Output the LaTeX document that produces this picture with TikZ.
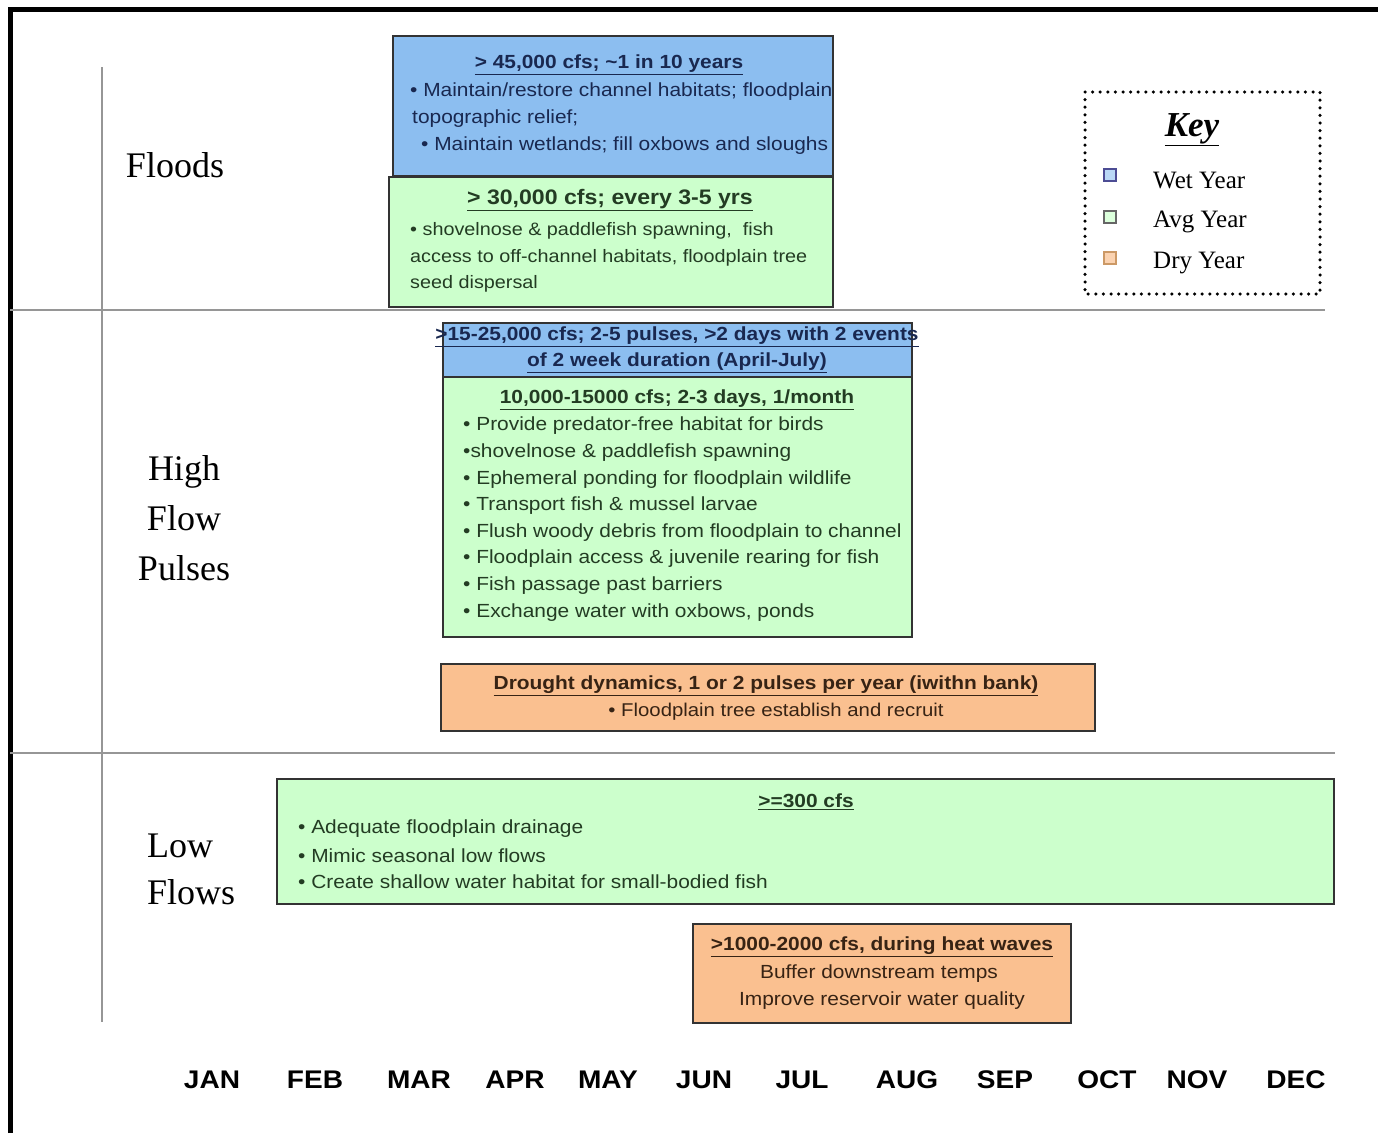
\documentclass[tikz,border=0pt]{standalone}
\usepackage{fontspec}
\setmainfont{Liberation Serif}
\setsansfont{Liberation Sans}[FakeStretch=1.1]
\usetikzlibrary{positioning}

\definecolor{wetblue}{RGB}{140,190,240}
\definecolor{avggreen}{RGB}{204,255,204}
\definecolor{dryorange}{RGB}{250,192,144}
\definecolor{wettext}{RGB}{25,40,80}
\definecolor{avgtext}{RGB}{35,60,35}
\definecolor{drytext}{RGB}{55,35,20}
\definecolor{rulegray}{RGB}{150,150,150}

\begin{document}
\begin{tikzpicture}[x=1pt,y=-1pt,
        flow box/.style={rectangle, draw=black!80, line width=2pt, inner sep=0pt},
        head/.style={inner sep=0pt, font=\sffamily\bfseries\fontsize{19}{22}\selectfont},
        body/.style={inner sep=0pt, anchor=west, font=\sffamily\fontsize{19}{22}\selectfont},
        row label/.style={inner sep=0pt, font=\fontsize{36}{50}\selectfont},
        month/.style={inner sep=0pt, font=\sffamily\bfseries\fontsize{25.5}{30}\selectfont},
        key square/.style={rectangle, inner sep=0pt, minimum size=12pt, line width=2pt},
        key label/.style={inner sep=0pt, yshift=-5pt, font=\fontsize{25}{28}\selectfont},
        rule/.style={rulegray, line width=2pt}]

            \useasboundingbox (0,0) rectangle (1378,1133);

            % Frame and rules

            \draw[line width=5pt] (10.5,1133) -- (10.5,9.5) -- (1378,9.5);
            \draw[rule] (10,310) -- (1325,310);
            \draw[rule] (10,753) -- (1335,753);
            \draw[rule] (102,67) -- (102,1022);

            % Row labels

            \node[row label] (floods) at (175,165) {Floods};
            \node[row label, align=center] (pulses) at (184,518) {High\\Flow\\Pulses};
            \node[row label, align=left, anchor=west, font=\fontsize{36}{47}\selectfont] (lowflows) at (147,869.5) {Low\\Flows};

            % Floods

            \node[flow box, fill=wetblue, minimum width=440, minimum height=140] (wet45) at (613,106) {};
            \node[flow box, fill=avggreen, minimum width=444, minimum height=130] (avg30) at (611,242) {};

            \node[head, text=wettext] (wet45h) at (609,65) {\underline{> 45,000 cfs; \textasciitilde1 in 10 years}};
            \node[body, text=wettext] (wet45a) at (410,92) {• Maintain/restore channel habitats; floodplain};
            \node[body, text=wettext] (wet45b) at (412,119) {topographic relief;};
            \node[body, text=wettext] (wet45c) at (421,146) {• Maintain wetlands; fill oxbows and sloughs};

            \node[head, text=avgtext, font=\sffamily\bfseries\fontsize{21}{24}\selectfont] (avg30h) at (610,200) {\underline{> 30,000 cfs; every 3-5 yrs}};
            \foreach \t [count=\i, evaluate = \i as \y using {204.5+26.5*\i}] in
              {{• shovelnose \& paddlefish spawning,\ \ fish},
               {access to off-channel habitats, floodplain tree},
               {seed dispersal}} {
                \node[body, text=avgtext, font=\sffamily\fontsize{18}{20}\selectfont] (avg30\i) at (410,\y) {\t};
            }

            % High flow pulses

            \node[flow box, fill=wetblue, minimum width=469, minimum height=54] (wet15) at (677.5,350) {};
            \node[flow box, fill=avggreen, minimum width=469, minimum height=260] (avg10) at (677.5,507) {};

            \node[head, text=wettext] (wet15a) at (677,337) {\underline{>15-25,000 cfs; 2-5 pulses, >2 days with 2 events}};
            \node[head, text=wettext] (wet15b) at (677,363) {\underline{of 2 week duration (April-July)}};

            \node[head, text=avgtext] (avg10h) at (677,400) {\underline{10,000-15000 cfs; 2-3 days, 1/month}};
            \foreach \t [count=\i, evaluate = \i as \y using {399.4+26.6*\i}] in
              {{• Provide predator-free habitat for birds},
               {•shovelnose \& paddlefish spawning},
               {• Ephemeral ponding for floodplain wildlife},
               {• Transport fish \& mussel larvae},
               {• Flush woody debris from floodplain to channel},
               {• Floodplain access \& juvenile rearing for fish},
               {• Fish passage past barriers},
               {• Exchange water with oxbows, ponds}} {
                \node[body, text=avgtext] (avg10\i) at (463,\y) {\t};
            }

            \node[flow box, fill=dryorange, minimum width=654, minimum height=67] (drought) at (768,697.5) {};
            \node[head, text=drytext] (droughth) at (766,686) {\underline{Drought dynamics, 1 or 2 pulses per year (iwithn bank)}};
            \node[body, anchor=center, text=drytext, font=\sffamily\fontsize{18.5}{22}\selectfont] (droughta) at (776,712) {• Floodplain tree establish and recruit};

            % Low flows

            \node[flow box, fill=avggreen, minimum width=1057, minimum height=125] (avg300) at (805.5,841.5) {};
            \node[head, text=avgtext] (avg300h) at (806,802) {\underline{>=300 cfs}};
            \foreach \t [count=\i, evaluate = \i as \y using {802+26.6*\i}] in
              {{• Adequate floodplain drainage},
               {• Mimic seasonal low flows},
               {• Create shallow water habitat for small-bodied fish}} {
                \node[body, text=avgtext] (avg300\i) at (298,\y) {\t};
            }

            \node[flow box, fill=dryorange, minimum width=378, minimum height=99] (heat) at (882,973.5) {};
            \node[head, text=drytext] (heath) at (882,947) {\underline{>1000-2000 cfs, during heat waves}};
            \node[body, anchor=center, text=drytext] (heata) at (879,974) {Buffer downstream temps};
            \node[body, anchor=center, text=drytext] (heatb) at (882,1001) {Improve reservoir water quality};

            % Key

            \draw[line width=3.5pt, line cap=round, dash pattern=on 0pt off 7.6pt] (1085,92) rectangle (1320,294);
            \node[inner sep=0pt, font=\bfseries\itshape\fontsize{35}{40}\selectfont] (keytitle) at (1192,130) {\underline{Key}};
            \node[key square, fill=wetblue!60, draw=blue!40!black!70] (kwet) at (1110,175) {};
            \node[key square, fill=avggreen!70, draw=black!60] (kavg) at (1110,217) {};
            \node[key square, fill=dryorange!70, draw=brown!80] (kdry) at (1110,258) {};
            \node[key label, right=36pt of kwet] (lwet) {Wet Year};
            \node[key label, right=36pt of kavg] (lavg) {Avg Year};
            \node[key label, right=36pt of kdry] (ldry) {Dry Year};

            % Months

            \foreach \m/\x in {JAN/212,FEB/315,MAR/419,APR/515,MAY/608,JUN/704,JUL/802,AUG/907,SEP/1005,OCT/1107,NOV/1197,DEC/1296} {
                \node[month] (m\m) at (\x,1080) {\m};
            }
        \end{tikzpicture}
\end{document}
